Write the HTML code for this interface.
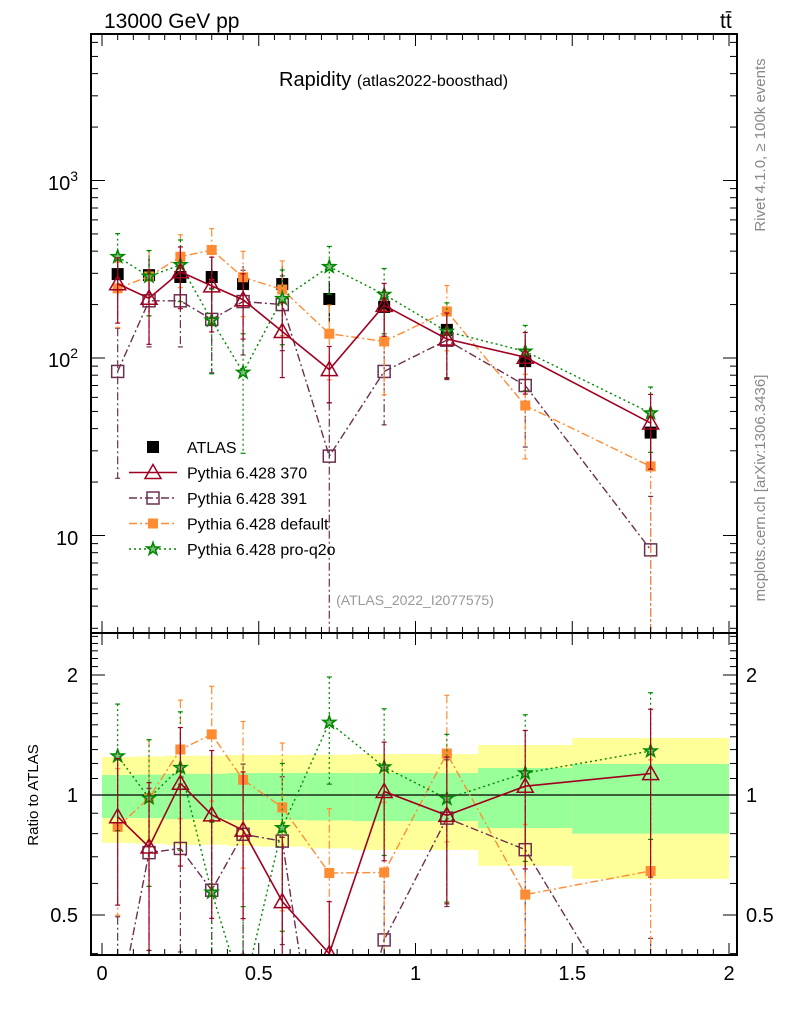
<!DOCTYPE html>
<html><head><meta charset="utf-8"><style>
html,body{margin:0;background:#fff;overflow:hidden;width:786px;height:1024px}
svg{display:block;font-family:"Liberation Sans",sans-serif}
</style></head><body>
<svg id="c" width="786" height="1024" xmlns="http://www.w3.org/2000/svg"></svg>
<script>
const xCenters=[0.05,0.15,0.25,0.35,0.45,0.575,0.725,0.9,1.1,1.35,1.75];
const binEdges=[0,0.1,0.2,0.3,0.4,0.5,0.65,0.8,1.0,1.2,1.5,2.0];
const atlas=[297,293,286,286,261,261,215,194,144,96,38];
const statUp=[0.122,0.125,0.13,0.13,0.135,0.135,0.135,0.135,0.135,0.169,0.196];
const statDn=[0.124,0.125,0.13,0.13,0.135,0.135,0.137,0.14,0.14,0.174,0.2];
const totUp=[0.245,0.25,0.255,0.255,0.26,0.26,0.262,0.267,0.267,0.335,0.39];
const totDn=[0.242,0.245,0.25,0.25,0.255,0.258,0.265,0.272,0.272,0.336,0.384];
const s370=[262,217,306,255,213,141,86,198,128,101,43];
const e370=[0.40,0.45,0.38,0.45,0.40,0.45,0.35,0.33,0.40,0.38,0.45];
const s391=[84,210,210,165,208,200,28,84,126,70,8.3];
const e391=[0.75,0.45,0.45,0.5,0.5,0.45,1.0,0.5,0.4,0.55,1.0];
const sDef=[247,288,372,406,285,243,137,124,183,54,24.5];
const eDef=[0.4,0.4,0.33,0.32,0.4,0.45,0.45,0.5,0.4,0.5,0.9];
const sPro=[372,288,335,163,83,216,327,228,141,109,49];
const ePro=[0.35,0.4,0.38,0.5,0.65,0.45,0.3,0.4,0.45,0.4,0.4];
const xTicks=[0,0.5,1,1.5,2];
const xTickLabels=["0","0.5","1","1.5","2"];

const L=91,R=737,T=34,MB=633,RB=955;
const NS="http://www.w3.org/2000/svg";
const svg=document.getElementById('c');
function X(v){return 102+v*313.5;}
function Y(v){return 358-177.5*Math.log10(v/100);}
function YR(r){return 795-398.6*Math.log10(r);}
function el(t,a,p){const e=document.createElementNS(NS,t);for(const k in a)e.setAttribute(k,a[k]);(p||svg).appendChild(e);return e;}
function clip(id,y0,y1){const cp=el('clipPath',{id:id});el('rect',{x:L,y:y0,width:R-L,height:y1-y0},cp);}
clip('cm',T,MB);clip('cr',MB,RB);
const gMain=el('g',{'clip-path':'url(#cm)'});


const gRat=el('g',{'clip-path':'url(#cr)'});



for(let i=0;i<xCenters.length;i++){
  const x0=X(binEdges[i]),x1=X(binEdges[i+1]);
  const yb=el('rect',{x:x0,y:YR(1+totUp[i]),width:x1-x0,height:YR(1-totDn[i])-YR(1+totUp[i]),fill:'#ffff99'},gRat);
  
  
  const gb=el('rect',{x:x0,y:YR(1+statUp[i]),width:x1-x0,height:YR(1-statDn[i])-YR(1+statUp[i]),fill:'#99ff99'},gRat);
  
  
}
el('line',{x1:L,x2:R,y1:YR(1),y2:YR(1),stroke:'#000','stroke-width':1.2},gRat);

function marker(kind,color,x,y,g){
  let m;
  if(kind==='atlas')m=el('rect',{x:x-6,y:y-6,width:12,height:12,fill:'#000'},g);
  else if(kind==='tri')m=el('polygon',{points:`${x},${y-8} ${x-8},${y+6} ${x+8},${y+6}`,fill:'none',stroke:color,'stroke-width':1.5},g);
  else if(kind==='osq')m=el('rect',{x:x-6,y:y-6,width:12,height:12,fill:'none',stroke:color,'stroke-width':1.5},g);
  else if(kind==='fsq')m=el('rect',{x:x-5,y:y-5,width:10,height:10,fill:color},g);
  else {let p=[];for(let k=0;k<10;k++){const r=k%2?2.6:6.5,a=-Math.PI/2+k*Math.PI/5;p.push((x+r*Math.cos(a)).toFixed(1)+','+(y+r*Math.sin(a)).toFixed(1));}
    m=el('polygon',{points:p.join(' '),fill:'#7fc07f',stroke:color,'stroke-width':1.6},g);}
  
  
  return m;
}
const series=[
 {name:'pythia-391',vals:s391,err:e391,kind:'osq',color:'#6b3050',dash:'8,3,2,3',w:1.4},
 {name:'pythia-default',vals:sDef,err:eDef,kind:'fsq',color:'#ff8c33',dash:'8,3,2,3',w:1.4},
 {name:'pythia-pro-q2o',vals:sPro,err:ePro,kind:'star',color:'#008800',dash:'2,3',w:1.4},
 {name:'pythia-370',vals:s370,err:e370,kind:'tri',color:'#a00020',dash:'',w:1.6},
];
function drawSeries(s,g,fy,ratio){
  const sg=el('g',{},g);
  
  
  const pts=[];
  for(let i=0;i<xCenters.length;i++){
    const v=ratio?s.vals[i]/atlas[i]:s.vals[i];
    const up=v*(1+s.err[i]),dn=Math.max(v*(1-s.err[i]),1e-4);
    const x=X(xCenters[i]);
    el('line',{x1:x,x2:x,y1:fy(up),y2:fy(dn),stroke:s.color,'stroke-width':1.2,'stroke-dasharray':s.dash},sg);
    el('line',{x1:x-2.5,x2:x+2.5,y1:fy(up),y2:fy(up),stroke:s.color,'stroke-width':1.2},sg);
    el('line',{x1:x-2.5,x2:x+2.5,y1:fy(dn),y2:fy(dn),stroke:s.color,'stroke-width':1.2},sg);
    pts.push([x,fy(v)]);
  }
  el('polyline',{points:pts.map(p=>p.join(',')).join(' '),fill:'none',stroke:s.color,'stroke-width':s.w,'stroke-dasharray':s.dash},sg);
  pts.forEach(p=>marker(s.kind,s.color,p[0],p[1],sg));
}
const ag=el('g',{},gMain);


for(let i=0;i<xCenters.length;i++){
  const x=X(xCenters[i]);
  el('line',{x1:x,x2:x,y1:Y(atlas[i]*(1+totUp[i])),y2:Y(atlas[i]*(1-totDn[i])),stroke:'#000','stroke-width':1.2},ag);
}
series.forEach(s=>drawSeries(s,gMain,Y,false));
for(let i=0;i<xCenters.length;i++)marker('atlas','#000',X(xCenters[i]),Y(atlas[i]),ag);
series.forEach(s=>drawSeries(s,gRat,YR,true));

el('rect',{x:L,y:T,width:R-L,height:MB-T,fill:'none',stroke:'#000','stroke-width':2});
el('rect',{x:L,y:MB,width:R-L,height:RB-MB,fill:'none',stroke:'#000','stroke-width':2});
for(let k=0;k<=40;k++){const v=k*0.05,x=X(v);if(x>R)break;const maj=k%10===0,len=maj?12:6;
  [[T,1],[MB,-1],[MB,1],[RB,-1]].forEach(([y0,d])=>el('line',{x1:x,x2:x,y1:y0,y2:y0+d*len,stroke:'#000','stroke-width':1}));}
for(let d=0;d<=4;d++)for(let m=1;m<10;m++){const v=Math.pow(10,d)*m,y=Y(v);if(y<T||y>MB)continue;const len=m===1?14:7;
  el('line',{x1:L,x2:L+len,y1:y,y2:y,stroke:'#000'});el('line',{x1:R,x2:R-len,y1:y,y2:y,stroke:'#000'});}
for(let k=4;k<=25;k++){const v=k/10,y=YR(v);if(y<MB||y>RB)continue;const maj=(k===5||k===10||k===20),len=maj?14:7;
  el('line',{x1:L,x2:L+len,y1:y,y2:y,stroke:'#000'});el('line',{x1:R,x2:R-len,y1:y,y2:y,stroke:'#000'});}
function txt(s,x,y,a,name){const t=el('text',a);t.textContent=s;t.setAttribute('x',x);t.setAttribute('y',y);return t;}
xTicks.forEach((v,i)=>txt(xTickLabels[i],X(v),980,{'font-size':20,'text-anchor':'middle'},'x-tick-label'));
const t3=txt('10',48,190,{'font-size':20},'y-tick-label');const s3=el('tspan',{dy:-9,'font-size':14},t3);s3.textContent='3';
const t2=txt('10',48,367,{'font-size':20},'y-tick-label');const s2=el('tspan',{dy:-9,'font-size':14},t2);s2.textContent='2';
txt('10',56,545,{'font-size':20},'y-tick-label');
[['2',2],['1',1],['0.5',0.5]].forEach(([s,v])=>{txt(s,78,YR(v)+7,{'font-size':20,'text-anchor':'end'},'ratio-tick-label');txt(s,746,YR(v)+7,{'font-size':20},'ratio-tick-label-right');});
txt('13000 GeV pp',104,28,{'font-size':21},'energy-label');
txt('tt̄',720,28,{'font-size':21},'process-label');
const ti=txt('Rapidity ',279,86,{'font-size':20},'plot-title');const ts=el('tspan',{'font-size':16},ti);ts.textContent='(atlas2022-boosthad)';
txt('(ATLAS_2022_I2077575)',415,605,{'font-size':14,'text-anchor':'middle',fill:'#999'},'analysis-id');
txt('Ratio to ATLAS',38,795,{'font-size':15,'text-anchor':'middle',transform:'rotate(-90 38 795)'},'ratio-axis-title');
txt('Rivet 4.1.0, ≥ 100k events',765,145,{'font-size':15,'text-anchor':'middle',fill:'#888',transform:'rotate(-90 765 145)'},'rivet-label');
txt('mcplots.cern.ch [arXiv:1306.3436]',765,488,{'font-size':15,'text-anchor':'middle',fill:'#888',transform:'rotate(-90 765 488)'},'mcplots-label');
const leg=el('g',{});


const legItems=[
 {label:'ATLAS',kind:'atlas',color:'#000',dash:null,w:1},
 {label:'Pythia 6.428 370',kind:'tri',color:'#a00020',dash:'',w:1.6},
 {label:'Pythia 6.428 391',kind:'osq',color:'#6b3050',dash:'8,3,2,3',w:1.4},
 {label:'Pythia 6.428 default',kind:'fsq',color:'#ff8c33',dash:'8,3,2,3',w:1.4},
 {label:'Pythia 6.428 pro-q2o',kind:'star',color:'#008800',dash:'2,3',w:1.4},
];
legItems.forEach((it,i)=>{const y=447+i*25.5;
  const eg=el('g',{},leg);
  
  
  if(it.dash!==null)el('line',{x1:129,x2:177,y1:y,y2:y,stroke:it.color,'stroke-width':it.w,'stroke-dasharray':it.dash},eg);
  marker(it.kind,it.color,153,y,eg);
  txt(it.label,187,y+6,{'font-size':16},'legend-label');});
</script>
</body></html>
